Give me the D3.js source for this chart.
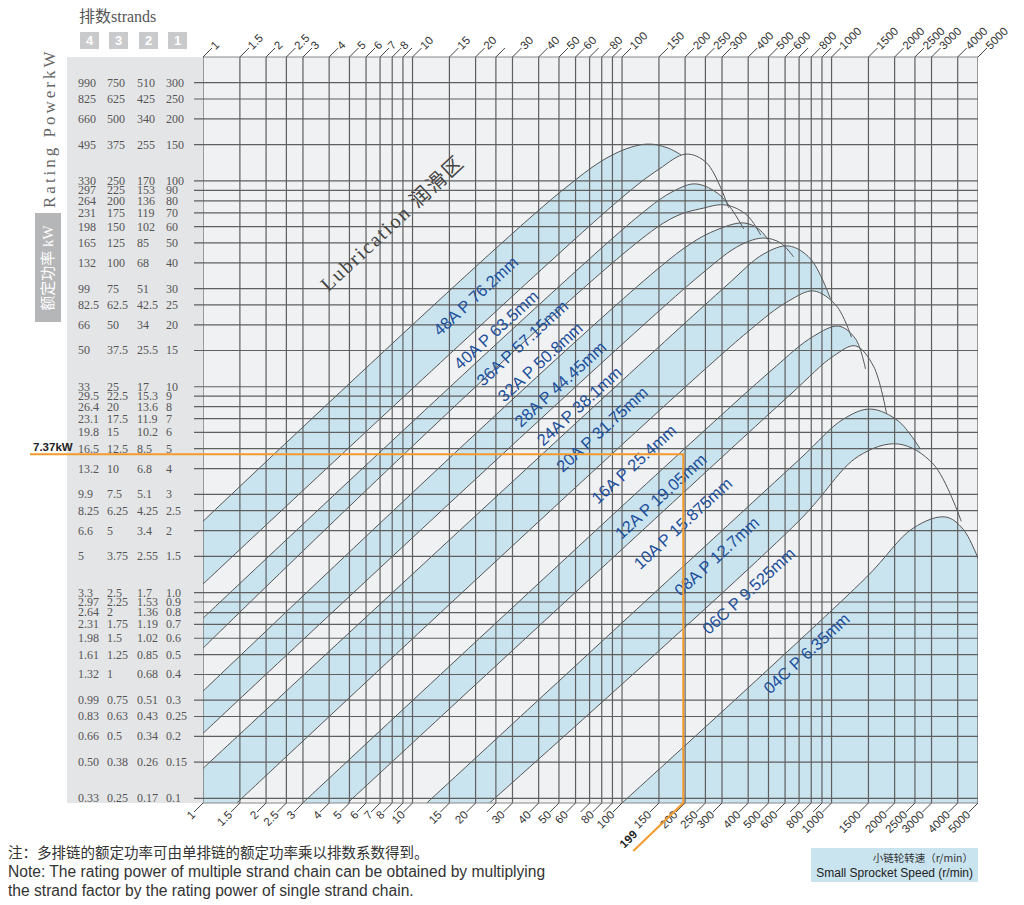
<!DOCTYPE html>
<html>
<head>
<meta charset="utf-8">
<script src="https://cdn.jsdelivr.net/npm/d3@7"></script>
<style>
  body { margin: 0; background: #fff; }
</style>
</head>
<body>
<div id="chart"></div>
<script>
// speed grid (r/min) and which ones get a label
const speedGrid = [1, 1.5, 2, 2.5, 3, 4, 5, 6, 7, 8, 9, 10, 15, 20, 25, 30, 40, 50, 60, 70, 80, 90,
  100, 150, 200, 250, 300, 400, 500, 600, 700, 800, 900, 1000, 1500, 2000, 2500, 3000, 4000, 5000];
const speedLabels = [1, 1.5, 2, 2.5, 3, 4, 5, 6, 7, 8, 10, 15, 20, 30, 40, 50, 60, 80,
  100, 150, 200, 250, 300, 400, 500, 600, 800, 1000, 1500, 2000, 2500, 3000, 4000, 5000];

// rating power rows (single strand kW) and the label columns for 4/3/2/1 strands
const power1 = [300, 250, 200, 150, 100, 90, 80, 70, 60, 50, 40, 30, 25, 20, 15, 10, 9, 8, 7, 6, 5, 4, 3, 2.5, 2, 1.5,
  1.0, 0.9, 0.8, 0.7, 0.6, 0.5, 0.4, 0.3, 0.25, 0.2, 0.15, 0.1];
const labels1 = ['300', '250', '200', '150', '100', '90', '80', '70', '60', '50', '40', '30', '25', '20', '15', '10', '9', '8', '7', '6', '5', '4', '3', '2.5', '2', '1.5',
  '1.0', '0.9', '0.8', '0.7', '0.6', '0.5', '0.4', '0.3', '0.25', '0.2', '0.15', '0.1'];
const labels2 = ['510', '425', '340', '255', '170', '153', '136', '119', '102', '85', '68', '51', '42.5', '34', '25.5', '17', '15.3', '13.6', '11.9', '10.2', '8.5', '6.8', '5.1', '4.25', '3.4', '2.55',
  '1.7', '1.53', '1.36', '1.19', '1.02', '0.85', '0.68', '0.51', '0.43', '0.34', '0.26', '0.17'];
const labels3 = ['750', '625', '500', '375', '250', '225', '200', '175', '150', '125', '100', '75', '62.5', '50', '37.5', '25', '22.5', '20', '17.5', '15', '12.5', '10', '7.5', '6.25', '5', '3.75',
  '2.5', '2.25', '2', '1.75', '1.5', '1.25', '1', '0.75', '0.63', '0.5', '0.38', '0.25'];
const labels4 = ['990', '825', '660', '495', '330', '297', '264', '231', '198', '165', '132', '99', '82.5', '66', '50', '33', '29.5', '26.4', '23.1', '19.8', '16.5', '13.2', '9.9', '8.25', '6.6', '5',
  '3.3', '2.97', '2.64', '2.31', '1.98', '1.61', '1.32', '0.99', '0.83', '0.66', '0.50', '0.33'];
const strands = ['4', '3', '2', '1'];

// chains, their rating curves [r/min, kW] and where the name sits
const chainNames = ['48A P 76.2mm', '40A P 63.5mm', '36A P 57.15mm', '32A P 50.8mm', '28A P 44.45mm',
  '24A P 38.1mm', '20A P 31.75mm', '16A P 25.4mm', '12A P 19.05mm', '10A P 15.875mm',
  '08A P 12.7mm', '06C P 9.525mm', '04C P 6.35mm'];
const curve48A = [[1, 2.22], [50.1, 87.4], [91.6, 135], [131, 151], [164, 145], [191, 134]];
const curve40A = [[1, 1.10], [96.8, 80.8], [150, 114], [202, 135], [254, 122], [323, 73.9]];
const curve36A = [[1, 0.751], [120, 67.6], [177, 89.4], [225, 96.7], [296, 84.6], [381, 58.4]];
const curve32A = [[1, 0.537], [158, 62.5], [246, 73.9], [313, 76.4], [394, 68.3], [459, 54.6]];
const curve28A = [[1, 0.332], [187, 45.2], [290, 58.4], [381, 62.5], [449, 58.4], [512, 49.9]];
const curve24A = [[1, 0.207], [233, 34.5], [369, 48.9], [475, 52.8], [572, 49.9], [659, 42.7]];
const curve20A = [[1, 0.140], [306, 30.2], [475, 44.2], [624, 48.3], [794, 41.8], [989, 26.7]];
const curve16A = [[1.45, 0.095], [381, 17.8], [624, 26.1], [821, 29.2], [1056, 24.7], [1245, 17.4]];
const curve12A = [[2.99, 0.095], [501, 11.7], [821, 17.6], [1080, 19.7], [1301, 17.1], [1452, 12.2]];
const curve10A = [[4.90, 0.095], [624, 9.01], [1022, 14.1], [1301, 15.8], [1585, 12.6], [1828, 7.45]];
const curve08A = [[11.7, 0.095], [696, 4.40], [1141, 6.97], [1534, 7.79], [2085, 6.81], [2653, 4.98]];
const curve06C = [[23.3, 0.095], [696, 2.22], [1345, 4.60], [2085, 5.27], [3060, 4.21], [4159, 2.22]];
const curve04C = [[100, 0.095], [1452, 1.175], [2458, 2.06], [3490, 2.33], [4252, 2.03], [5293, 1.27]];
const chainCurves = [curve48A, curve40A, curve36A, curve32A, curve28A, curve24A, curve20A,
  curve16A, curve12A, curve10A, curve08A, curve06C, curve04C];
const chainLabelAt = [[20, 27.6], [25.1, 18.9], [33.4, 16.3], [40.7, 13.2], [50.7, 10.3], [62.4, 8.05],
  [80.3, 6.22], [114, 4.21], [153, 2.94], [195, 2.17], [283, 1.50], [402, 1.02], [760, 0.507]];
const lubricationAt = [8.0, 62.5];

// worked example
const exampleKW = 4.7;
const exampleSpeed = 196;
const exampleKWText = '7.37kW';
const exampleSpeedText = '199';

const W = 1024, H = 905;
const pL = 203, pR = 978, pT = 57, pB = 803;
const blue = '#c9e3ef', plotBg = '#f0f1f3', gridColor = '#5f5f5f';

const x = d3.scaleLog().domain([1, 5000]).range([pL, pR]);
const y = d3.scaleLog().domain([0.095, 400]).range([pB, pT]);

const svg = d3.select('#chart').append('svg')
  .attr('width', W).attr('height', H)
  .style('font-family', 'Liberation Sans, Arial, sans-serif');

svg.append('defs').append('clipPath').attr('id', 'plotClip')
  .append('rect').attr('x', pL).attr('y', pT).attr('width', pR - pL).attr('height', pB - pT);

// left label panel and plot background
svg.append('rect').attr('x', 67).attr('y', pT).attr('width', pL - 67).attr('height', pB - pT).attr('fill', '#e4e5e7');
svg.append('rect').attr('x', pL).attr('y', pT).attr('width', pR - pL).attr('height', pB - pT).attr('fill', plotBg);

const plot = svg.append('g').attr('clip-path', 'url(#plotClip)');

const area = d3.area().x(d => x(d[0])).y0(pB + 20).y1(d => y(d[1])).curve(d3.curveCatmullRom.alpha(0.5));
const line = d3.line().x(d => x(d[0])).y(d => y(d[1])).curve(d3.curveCatmullRom.alpha(0.5));

// bands: paint under each curve from the top chain down, alternating blue / background
chainCurves.forEach((c, i) => {
  plot.append('path').datum(c).attr('d', area).attr('fill', i % 2 === 0 ? blue : plotBg);
});

// grid
plot.selectAll('.vgrid').data(speedGrid).join('line')
  .attr('x1', d => x(d)).attr('x2', d => x(d)).attr('y1', pT).attr('y2', pB)
  .attr('stroke', gridColor).attr('stroke-width', 1.2);
svg.selectAll('.hgrid').data(power1).join('line')
  .attr('x1', 194).attr('x2', pR).attr('y1', d => y(d)).attr('y2', d => y(d))
  .attr('stroke', gridColor).attr('stroke-width', 1.2);
svg.append('line').attr('x1', pL).attr('x2', pR).attr('y1', pT).attr('y2', pT).attr('stroke', '#888');
svg.append('line').attr('x1', pL).attr('x2', pR).attr('y1', pB).attr('y2', pB).attr('stroke', '#888');

// curve outlines
chainCurves.forEach(c => {
  plot.append('path').datum(c).attr('d', line).attr('fill', 'none').attr('stroke', '#555').attr('stroke-width', 1);
});

// top and bottom slanted ticks + labels
svg.selectAll('.ttick').data(speedGrid).join('line')
  .attr('x1', d => x(d)).attr('y1', pT).attr('x2', d => x(d) + 9).attr('y2', pT - 9)
  .attr('stroke', '#444').attr('stroke-width', 1);
svg.selectAll('.btick').data(speedGrid).join('line')
  .attr('x1', d => x(d)).attr('y1', pB).attr('x2', d => x(d) - 9).attr('y2', pB + 9)
  .attr('stroke', '#444').attr('stroke-width', 1);
svg.selectAll('.tlab').data(speedLabels).join('text')
  .attr('transform', d => `translate(${x(d) + 9},${pT - 9}) rotate(-45)`)
  .attr('x', 1).attr('dy', '0.35em')
  .attr('font-size', 11.5).attr('fill', '#333').text(d => d);
svg.selectAll('.blab').data(speedLabels).join('text')
  .attr('transform', d => `translate(${x(d) - 9},${pB + 9}) rotate(-45)`)
  .attr('x', -1).attr('dy', '0.35em').attr('text-anchor', 'end')
  .attr('font-size', 11.5).attr('fill', '#333').text(d => d);

// power label columns
const colX = [78, 107, 137, 166];
[labels4, labels3, labels2, labels1].forEach((labs, ci) => {
  svg.append('g').selectAll('text').data(labs).join('text')
    .attr('x', colX[ci]).attr('y', (d, i) => y(power1[i])).attr('dy', '0.33em')
    .attr('font-family', 'Liberation Serif, Times New Roman, serif')
    .attr('font-size', 12).attr('fill', '#555').text(d => d);
});

// strands header
svg.append('text').attr('x', 79).attr('y', 22)
  .attr('font-family', 'Liberation Serif, Noto Sans CJK SC, serif')
  .attr('font-size', 16).attr('fill', '#555').text('排数strands');
strands.forEach((s, i) => {
  svg.append('rect').attr('x', colX[i] + 2).attr('y', 32).attr('width', 19).attr('height', 17).attr('fill', '#c9cacc');
  svg.append('text').attr('x', colX[i] + 11.5).attr('y', 45).attr('text-anchor', 'middle')
    .attr('font-size', 13).attr('font-weight', 'bold').attr('fill', '#fff').text(s);
});

// vertical axis titles
svg.append('text').attr('transform', 'translate(55,208) rotate(-90)')
  .attr('font-family', 'Liberation Serif, serif').attr('font-size', 17)
  .attr('letter-spacing', 3).attr('fill', '#666').text('Rating PowerkW');
svg.append('rect').attr('x', 35).attr('y', 213).attr('width', 26).attr('height', 109).attr('fill', '#b5b6b8');
svg.append('text').attr('transform', 'translate(53,268) rotate(-90)').attr('text-anchor', 'middle')
  .attr('font-family', 'Liberation Serif, Noto Sans CJK SC, serif').attr('font-size', 15)
  .attr('fill', '#fff').text('额定功率 kW');

// chain names along the bands
svg.selectAll('.cname').data(chainNames).join('text')
  .attr('transform', (d, i) => `translate(${x(chainLabelAt[i][0])},${y(chainLabelAt[i][1])}) rotate(-42.5)`)
  .attr('text-anchor', 'middle').attr('dy', '0.35em')
  .attr('font-size', 16.5).attr('fill', '#1c4f9c').text(d => d);

svg.append('text')
  .attr('transform', `translate(${x(lubricationAt[0])},${y(lubricationAt[1])}) rotate(-43)`)
  .attr('text-anchor', 'middle').attr('dy', '0.35em')
  .attr('font-family', 'Liberation Serif, Noto Sans CJK SC, serif').attr('font-size', 20)
  .attr('letter-spacing', 2).attr('fill', '#444').text('Lubrication   润滑区');

// worked example in orange
const ex = x(exampleSpeed), ey = y(exampleKW);
svg.append('path')
  .attr('d', `M30,${ey}H${ex}V${pB}L${ex - 50},${pB + 48}`)
  .attr('fill', 'none').attr('stroke', '#f29a2e').attr('stroke-width', 2);
svg.append('text').attr('x', 33).attr('y', ey - 3)
  .attr('font-size', 11.5).attr('font-weight', 'bold').attr('fill', '#222').text(exampleKWText);
svg.append('text').attr('transform', `translate(${ex - 50},${pB + 41}) rotate(-45)`)
  .attr('text-anchor', 'middle').attr('dy', '-3')
  .attr('font-size', 11.5).attr('font-weight', 'bold').attr('fill', '#222').text(exampleSpeedText);

// notes
const note = svg.append('g').attr('fill', '#333');
note.append('text').attr('x', 8).attr('y', 858).attr('font-family', 'Noto Sans CJK SC, sans-serif')
  .attr('font-size', 14.5).text('注：多排链的额定功率可由单排链的额定功率乘以排数系数得到。');
note.append('text').attr('x', 8).attr('y', 877).attr('font-size', 15.6)
  .text('Note: The rating power of multiple strand chain can be obtained by multiplying');
note.append('text').attr('x', 8).attr('y', 896).attr('font-size', 15.6)
  .text('the strand factor by the rating power of single strand chain.');

// speed axis caption box
svg.append('rect').attr('x', 811).attr('y', 848).attr('width', 167).attr('height', 34).attr('fill', blue);
svg.append('text').attr('x', 973).attr('y', 862).attr('text-anchor', 'end')
  .attr('font-family', 'Noto Sans CJK SC, sans-serif').attr('font-size', 10.5).attr('fill', '#333')
  .text('小链轮转速（r/min）');
svg.append('text').attr('x', 973).attr('y', 877).attr('text-anchor', 'end')
  .attr('font-size', 12).attr('fill', '#222').text('Small Sprocket Speed (r/min)');
</script>
</body>
</html>
